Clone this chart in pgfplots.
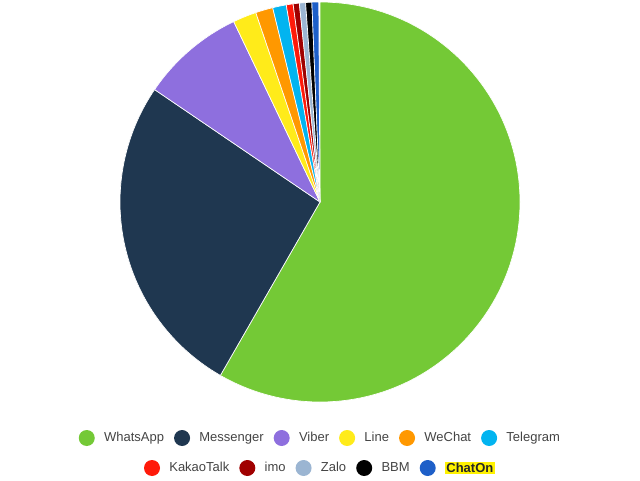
\documentclass[border=0pt]{standalone}
\usepackage{pgfplots}
\pgfplotsset{compat=1.18}
\usepackage{pgfplotstable}
\usepackage{fontspec}
\setmainfont{Liberation Sans}
\definecolor{wa}{HTML}{74C936}
\definecolor{ms}{HTML}{1F3750}
\definecolor{vb}{HTML}{8E6FDE}
\definecolor{ln}{HTML}{FFEB1A}
\definecolor{wc}{HTML}{FF9800}
\definecolor{tg}{HTML}{02B4F0}
\definecolor{kk}{HTML}{FF1A0A}
\definecolor{im}{HTML}{A00000}
\definecolor{zl}{HTML}{9BB5D2}
\definecolor{bb}{HTML}{000000}
\definecolor{co}{HTML}{1E5FC8}
\definecolor{hl}{HTML}{FFF200}
\definecolor{txt}{HTML}{444444}
\pgfplotstableread{
name value col
WhatsApp 58.3 wa
Messenger 26.2 ms
Viber 8.4 vb
Line 1.9 ln
WeChat 1.4 wc
Telegram 1.1 tg
KakaoTalk 0.55 kk
imo 0.5 im
Zalo 0.5 zl
BBM 0.5 bb
ChatOn 0.55 co
}\piedata
\pgfplotsset{
  pielegend/.style={
    legend image code/.code={\fill[##1, draw=none] (6pt,0pt) circle (6pt);},
    legend style={draw=none, fill=none, font=\fontsize{9.75}{11}\selectfont\color{txt},
      nodes={inner sep=1pt},
      /tikz/every odd column/.append style={column sep=6pt},
      /tikz/every even column/.append style={column sep=6.5pt}},
  }
}
\begin{document}
\begin{tikzpicture}
\useasboundingbox (0,0) rectangle (480pt,360pt);
\begin{axis}[at={(90pt,58.5pt)}, anchor=south west, scale only axis,
  width=300pt, height=300pt, xmin=-1, xmax=1, ymin=-1, ymax=1,
  hide axis, clip=false, pielegend, legend columns=6,
  legend style={at={(0.5,-0.09)}, anchor=center}]
\def\cum{0}
\pgfplotsforeachungrouped \i in {0,...,10}{%
  \pgfplotstablegetelem{\i}{value}\of\piedata \let\v\pgfplotsretval
  \pgfplotstablegetelem{\i}{col}\of\piedata \let\c\pgfplotsretval
  \pgfmathsetmacro\s{90-3.6*\cum}%
  \pgfmathsetmacro\e{90-3.6*(\cum+\v)}%
  \edef\tmp{\noexpand\fill[fill=\c, draw=white, line width=0.5pt, line join=round] (axis cs:0,0) -- (axis cs:{cos(\s)},{sin(\s)}) arc[start angle=\s, end angle=\e, radius=150pt] -- cycle;}%
  \tmp
  \pgfmathsetmacro\cum{\cum+\v}%
  \global\let\cum\cum
}
\addlegendimage{fill=wa}\addlegendentry{WhatsApp}
\addlegendimage{fill=ms}\addlegendentry{Messenger}
\addlegendimage{fill=vb}\addlegendentry{Viber}
\addlegendimage{fill=ln}\addlegendentry{Line}
\addlegendimage{fill=wc}\addlegendentry{WeChat}
\addlegendimage{fill=tg}\addlegendentry{Telegram}
\end{axis}
\begin{axis}[at={(90pt,58.5pt)}, anchor=south west, scale only axis,
  width=300pt, height=300pt, xmin=-1, xmax=1, ymin=-1, ymax=1,
  hide axis, clip=false, pielegend, legend columns=5,
  legend style={at={(0.5,-0.165)}, anchor=center}]
\addlegendimage{fill=kk}\addlegendentry{KakaoTalk}
\addlegendimage{fill=im}\addlegendentry{imo}
\addlegendimage{fill=zl}\addlegendentry{Zalo}
\addlegendimage{fill=bb}\addlegendentry{BBM}
\addlegendimage{fill=co}\addlegendentry{{\setlength{\fboxsep}{1pt}\colorbox{hl}{\textbf{\color{black!85}ChatOn}}}}
\end{axis}
\end{tikzpicture}
\end{document}
